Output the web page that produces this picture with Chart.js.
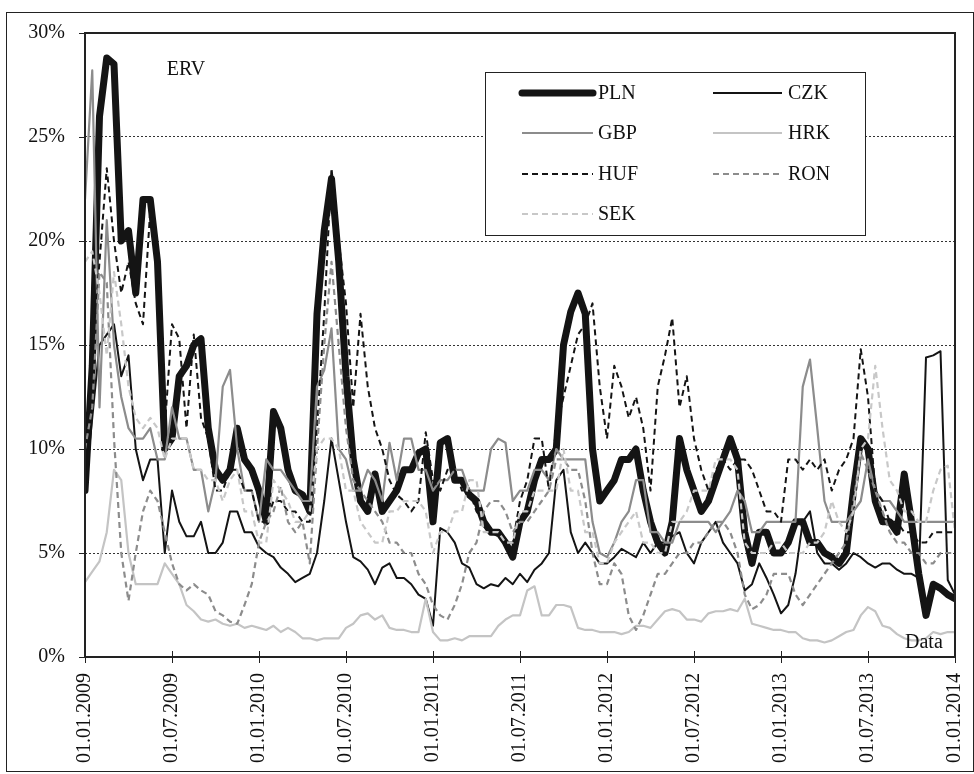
<!DOCTYPE html>
<html>
<head>
<meta charset="utf-8">
<title>ERV</title>
<script src="https://cdn.jsdelivr.net/npm/chart.js"></script>
<style>
  html, body { margin: 0; padding: 0; background: #fff; }
  #wrap { width: 974px; height: 774px; }
</style>
</head>
<body>
<div id="wrap"><canvas id="ervChart" width="974" height="774"></canvas></div>
<script>
// --- DATA (one reading every half month, 01.2009 - 01.2014) ---
const STEP = 0.5; // months between readings
const tickLabels = ['01.01.2009', '01.07.2009', '01.01.2010', '01.07.2010', '01.01.2011', '01.07.2011',
                    '01.01.2012', '01.07.2012', '01.01.2013', '01.07.2013', '01.01.2014'];
const seriesNames = ['PLN', 'CZK', 'GBP', 'HRK', 'HUF', 'RON', 'SEK'];

const PLN = [8, 14, 26, 28.8, 28.5, 20, 20.5, 17.5, 22, 22, 19, 10, 10.5, 13.5, 14, 15, 15.3, 11, 9, 8.5,
             9, 11, 9.5, 9, 8, 6.5, 11.8, 11, 9, 8, 7.8, 7, 16.5, 20.5, 23, 19, 13.5, 9.5, 7.5, 7,
             8.8, 7, 7.5, 8, 9, 9, 9.8, 10, 6.5, 10.3, 10.5, 8.5, 8.5, 7.8, 7.5, 6.5, 6, 6, 5.5, 4.8,
             6.5, 7, 8.5, 9.5, 9.5, 10, 15, 16.6, 17.5, 16.5, 10, 7.5, 8, 8.5, 9.5, 9.5, 10, 8, 6.5, 5.5,
             5, 6.5, 10.5, 9, 8, 7, 7.5, 8.5, 9.5, 10.5, 9.5, 6, 4.5, 6, 6, 5, 5, 5.5, 6.5, 6.5,
             5.5, 5.5, 5, 4.8, 4.5, 5, 8, 10.5, 10, 7.5, 6.5, 6.5, 6, 8.8, 6.5, 4, 2, 3.5, 3.3, 3,
             2.8];
const CZK = [8, 11.5, 15, 15.5, 16, 13.5, 14.5, 10, 8.5, 9.5, 9.5, 5, 8, 6.5, 5.8, 5.8, 6.5, 5, 5, 5.5,
             7, 7, 6, 6, 5.3, 5, 4.8, 4.3, 4, 3.6, 3.8, 4, 5, 7.5, 10.5, 8.5, 6.5, 4.8, 4.6, 4.2,
             3.5, 4.3, 4.5, 3.8, 3.8, 3.5, 3, 2.8, 1.5, 6.2, 6, 5.5, 4.5, 4.3, 3.5, 3.3, 3.5, 3.4, 3.8, 3.5,
             4, 3.6, 4.2, 4.5, 5, 8.5, 9, 6, 5, 5.5, 5, 4.5, 4.5, 4.8, 5.2, 5, 4.8, 5.5, 5, 5.5,
             5.5, 5.8, 6, 5, 4.5, 5.5, 6, 6.5, 5.5, 5, 4.5, 3.2, 3.5, 4.5, 3.8, 3, 2.1, 2.5, 4, 6.5,
             7, 5, 4.5, 4.5, 4.2, 4.5, 5, 4.8, 4.5, 4.3, 4.5, 4.5, 4.2, 4, 4, 3.8, 14.4, 14.5, 14.7, 3.7,
             3];
const GBP = [22, 28.2, 12, 21, 15, 12.5, 11, 10.5, 10.5, 11, 9.5, 9.5, 12, 10.5, 10.5, 9, 9, 7, 8.5, 13,
             13.8, 10, 8, 8, 6.5, 9.5, 9, 9, 8.5, 8, 7.5, 7.5, 13, 13.8, 15.8, 10, 9.5, 8, 8, 9,
             8.5, 7.5, 10.3, 8.5, 10.5, 10.5, 9, 9, 8, 8.5, 8.5, 9, 9, 8, 8, 8, 10, 10.5, 10.3, 7.5,
             8, 8, 9, 9, 8.5, 10, 9.5, 9.5, 9.5, 9.5, 6.5, 5, 4.8, 5.5, 6.5, 7, 8.5, 8.5, 6, 6,
             5.5, 5.5, 6.5, 6.5, 6.5, 6.5, 6.5, 6, 6.5, 7, 8, 7.5, 6, 6, 6.5, 6.5, 6.5, 6.5, 6.5, 13,
             14.3, 11, 7.5, 6.5, 6.5, 6.5, 7, 7.5, 9.5, 8, 7.5, 7.5, 7, 6.5, 6.5, 6.5, 6.5, 6.5, 6.5, 6.5,
             6.5];
const HRK = [3.6, 4.1, 4.6, 6, 9, 8.5, 5, 3.5, 3.5, 3.5, 3.5, 4.5, 4, 3.5, 2.5, 2.2, 1.8, 1.7, 1.8, 1.6,
             1.5, 1.6, 1.4, 1.5, 1.4, 1.3, 1.5, 1.2, 1.4, 1.2, 0.9, 0.9, 0.8, 0.9, 0.9, 0.9, 1.4, 1.6, 2, 2.1,
             1.8, 2, 1.4, 1.3, 1.3, 1.2, 1.2, 2.8, 1.2, 0.8, 0.8, 0.9, 0.8, 1, 1, 1, 1, 1.5, 1.8, 2,
             2, 3.2, 3.4, 2, 2, 2.5, 2.5, 2.4, 1.4, 1.3, 1.3, 1.2, 1.2, 1.2, 1.1, 1.2, 1.5, 1.5, 1.4, 1.8,
             2.2, 2.3, 2.2, 1.8, 1.8, 1.7, 2.1, 2.2, 2.2, 2.3, 2.2, 2.8, 1.6, 1.5, 1.4, 1.3, 1.3, 1.2, 1.2, 0.9,
             0.8, 0.8, 0.7, 0.8, 1, 1.2, 1.3, 2, 2.4, 2.2, 1.5, 1.4, 1.1, 0.9, 0.8, 0.8, 0.9, 1.2, 1.1, 1.2,
             1.2];
const HUF = [10, 14.5, 19, 23.5, 20, 17.5, 19, 17, 16, 21.5, 19.5, 11, 16, 15.3, 11, 15.5, 11.5, 10.5, 8, 8,
             9, 9, 8, 8, 6.5, 6.5, 7.5, 7.5, 7, 7, 6.5, 6.5, 11, 16.5, 23.5, 20, 17, 12, 16.5, 13,
             11, 10, 8.5, 7.8, 7.5, 7, 7.5, 10.8, 8.5, 8, 9, 9, 8, 8, 7, 6.5, 6, 5.8, 5.5, 5.5,
             7.5, 8.5, 10.5, 10.5, 8, 11, 12.5, 14, 15.5, 16, 17, 13, 10.5, 14, 13, 11.5, 12.5, 11, 8, 13,
             14.5, 16.3, 12, 13.5, 10.5, 9, 8, 9, 9.5, 9, 9.5, 9.5, 9, 8, 7, 7, 6.5, 9.5, 9.5, 9,
             9.5, 9, 9.5, 8, 9, 9.5, 10.5, 14.8, 12.5, 8, 7.5, 6.5, 6.5, 6, 6, 5.5, 5.5, 6, 6, 6,
             6];
const RON = [10, 12, 18.5, 18, 10.5, 5, 2.7, 5, 7, 8, 7.5, 6, 4.5, 3.5, 3.2, 3.5, 3.2, 3, 2.2, 2,
             1.7, 1.6, 2.5, 3.5, 5.5, 6.5, 7, 8.2, 6.5, 6, 6.5, 4.5, 10, 15, 19, 15, 11, 8.5, 8, 7.5,
             7, 6.5, 5.5, 5.5, 5, 5, 4, 3.5, 2.5, 2, 1.8, 2.5, 3.5, 5, 5.5, 7, 7.5, 7.5, 7, 6,
             6.5, 6.5, 7, 7.5, 8, 9.5, 9.5, 9, 9, 7.5, 5, 3.5, 3.5, 4.5, 4, 2, 1.3, 2, 3, 4,
             4, 4.5, 5, 5, 5.5, 5.5, 6, 6.5, 6.5, 6, 5, 3, 2.3, 2.5, 3, 4, 4, 4, 3, 2.5,
             3, 3.5, 4, 4.5, 5, 5.5, 7.5, 9.8, 9, 8, 7, 6, 5.5, 5.5, 5, 5, 4.5, 4.5, 5, 5,
             5];
const SEK = [19, 19.5, 17.5, 14.5, 18.5, 16, 13, 11.5, 11, 11.5, 11, 9.5, 10.5, 10.5, 10.5, 9, 9, 8.5, 8.5, 7.5,
             8.5, 9, 7, 7, 5.5, 5.5, 8.5, 8, 7.5, 6.5, 6.5, 7, 10, 10.5, 10.5, 10, 8, 8, 6.5, 6,
             5.5, 5.5, 7, 7, 7.5, 7.5, 7.5, 7, 5, 6, 6, 7, 7, 8.5, 8.5, 6, 6, 6, 5.5, 5.5,
             7, 7, 8, 8, 8, 8, 10, 8, 8, 6, 6, 4.5, 4.5, 5.5, 6, 6.5, 7, 5.5, 5.5, 5,
             5, 6.5, 6.5, 7, 8, 8, 8, 9.5, 9.5, 9.5, 9, 5.5, 5, 5, 5, 5.5, 5.5, 5, 5, 5,
             5.5, 5.5, 6, 7.5, 6.5, 6, 7, 10, 10.5, 14, 11, 8.5, 8, 7, 7, 6.5, 6.5, 8, 9, 9.2,
             6];

// --- STYLE ---
const SERIF = '"Liberation Serif", "Times New Roman", serif';
const styles = {
    PLN: { color: '#141414', width: 7, dash: [] },
    CZK: { color: '#141414', width: 2, dash: [] },
    GBP: { color: '#8c8c8c', width: 2.2, dash: [] },
    HRK: { color: '#c4c4c4', width: 2.2, dash: [] },
    HUF: { color: '#141414', width: 2, dash: [6, 4] },
    RON: { color: '#8c8c8c', width: 2.2, dash: [6, 4] },
    SEK: { color: '#c8c8c8', width: 2.2, dash: [6, 4] }
};
const seriesData = { PLN, CZK, GBP, HRK, HUF, RON, SEK };

function toPoints(values) {
    return values.map((v, i) => ({ x: i * STEP, y: v }));
}

// frame, ticks, texts and the boxed legend
const decorations = {
    id: 'decorations',
    afterDatasetsDraw(chart) {
        const { ctx, chartArea: a, scales } = chart;
        ctx.save();

        // outer picture frame
        ctx.strokeStyle = '#222';
        ctx.lineWidth = 1;
        ctx.strokeRect(6.5, 12.5, 967, 759);

        // plot frame
        ctx.lineWidth = 2;
        ctx.strokeStyle = '#222';
        ctx.strokeRect(a.left, a.top, a.right - a.left, a.bottom - a.top);

        // tick marks
        ctx.lineWidth = 1;
        scales.y.ticks.forEach(t => {
            const y = Math.round(scales.y.getPixelForValue(t.value)) + 0.5;
            ctx.beginPath(); ctx.moveTo(a.left - 6, y); ctx.lineTo(a.left, y); ctx.stroke();
        });
        scales.x.ticks.forEach(t => {
            const x = Math.round(scales.x.getPixelForValue(t.value)) + 0.5;
            ctx.beginPath(); ctx.moveTo(x, a.bottom - 6); ctx.lineTo(x, a.bottom + 6); ctx.stroke();
        });

        // texts inside the plot
        ctx.fillStyle = '#111';
        ctx.font = '20px ' + SERIF;
        ctx.textAlign = 'center';
        ctx.textBaseline = 'middle';
        ctx.fillText('ERV', 186, 70);
        ctx.textAlign = 'left';
        ctx.textBaseline = 'alphabetic';
        ctx.fillText('Data', 905, 648);

        // legend box
        ctx.fillStyle = '#fff';
        ctx.fillRect(485, 72, 380, 163);
        ctx.lineWidth = 1;
        ctx.strokeStyle = '#222';
        ctx.strokeRect(485.5, 72.5, 380, 163);
        const cols = [{ x1: 522, x2: 593, tx: 598 }, { x1: 713, x2: 782, tx: 788 }];
        const rows = [93, 133, 174, 214];
        ctx.textBaseline = 'middle';
        chart.data.datasets.forEach((ds, i) => {
            const c = cols[i % 2], y = rows[Math.floor(i / 2)];
            ctx.beginPath();
            ctx.strokeStyle = ds.borderColor;
            ctx.lineWidth = ds.borderWidth;
            ctx.lineCap = ds.label === 'PLN' ? 'round' : 'butt';
            ctx.setLineDash(ds.borderDash);
            ctx.moveTo(c.x1, y); ctx.lineTo(c.x2, y);
            ctx.stroke();
            ctx.setLineDash([]);
            ctx.fillStyle = '#111';
            ctx.fillText(ds.label, c.tx, y + 1);
        });
        ctx.restore();
    }
};

const datasets = seriesNames.map((name, i) => ({
    label: name,
    data: toPoints(seriesData[name]),
    borderColor: styles[name].color,
    borderWidth: styles[name].width,
    borderDash: styles[name].dash,
    borderCapStyle: name === 'PLN' ? 'round' : 'butt',
    borderJoinStyle: 'round',
    pointRadius: 0,
    tension: 0,
    fill: false,
    order: seriesNames.length - i
}));

new Chart(document.getElementById('ervChart'), {
    type: 'line',
    data: { datasets },
    options: {
        responsive: false,
        animation: false,
        events: [],
        layout: { padding: { left: 0, top: 33, right: 19, bottom: 0 } },
        plugins: { legend: { display: false }, tooltip: { enabled: false } },
        scales: {
            x: {
                type: 'linear',
                min: 0,
                max: 60,
                afterFit: s => { s.height = 117; s.paddingLeft = 0; s.paddingRight = 0; },
                grid: { display: false, drawTicks: false },
                border: { display: false },
                ticks: {
                    stepSize: 6,
                    autoSkip: false,
                    minRotation: 90,
                    maxRotation: 90,
                    padding: 16,
                    color: '#111',
                    font: { family: SERIF, size: 20 },
                    callback: v => tickLabels[Math.round(v / 6)]
                }
            },
            y: {
                min: 0,
                max: 30,
                afterFit: s => { s.width = 85; s.paddingTop = 0; s.paddingBottom = 0; },
                grid: {
                    color: ctx => (ctx.tick.value === 0 || ctx.tick.value === 30) ? 'rgba(0,0,0,0)' : '#333',
                    lineWidth: 1,
                    drawTicks: false
                },
                border: { display: false, dash: [2, 2] },
                ticks: {
                    stepSize: 5,
                    padding: 20,
                    color: '#111',
                    font: { family: SERIF, size: 20 },
                    callback: v => v + '%'
                }
            }
        }
    },
    plugins: [decorations]
});
</script>
</body>
</html>
